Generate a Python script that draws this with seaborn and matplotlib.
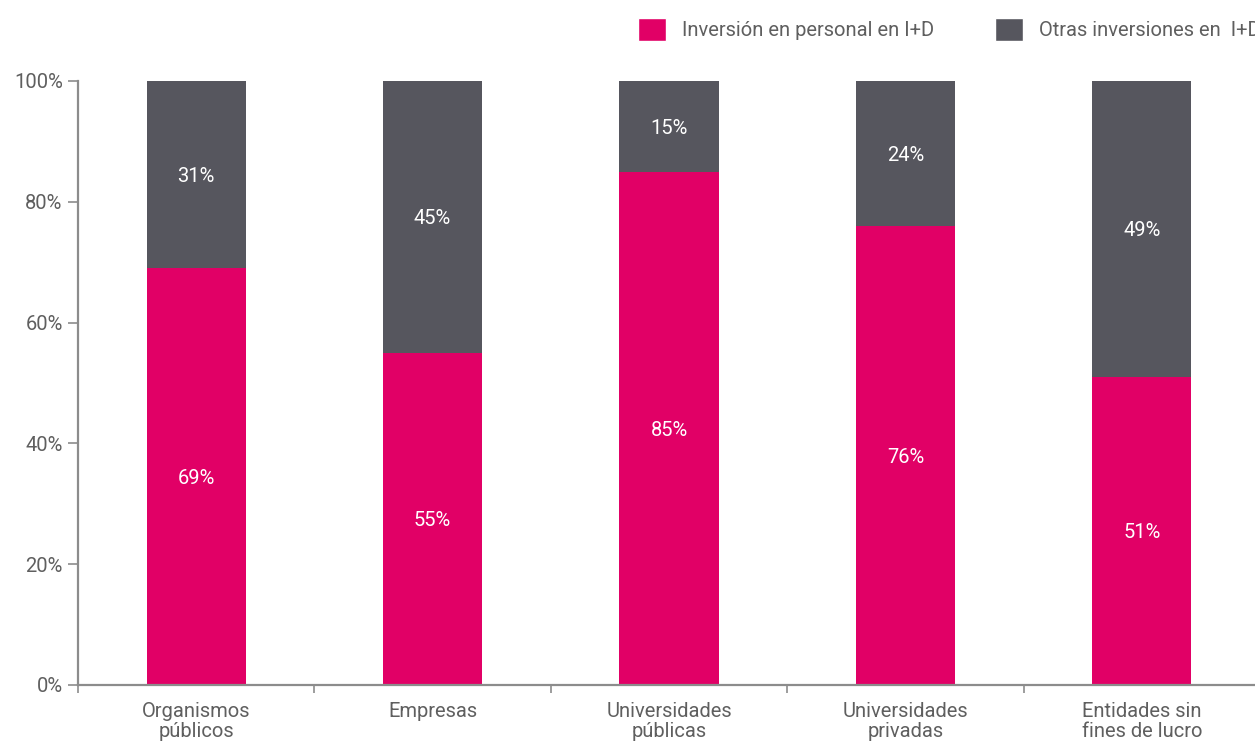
import pandas as pd
import seaborn as sns
import matplotlib.pyplot as plt
from matplotlib.patches import Patch

# Data
categorias = ["Organismos\npúblicos", "Empresas", "Universidades\npúblicas",
              "Universidades\nprivadas", "Entidades sin\nfines de lucro"]
personal = [69, 55, 85, 76, 51]
otras = [31, 45, 15, 24, 49]
yticks = [0, 20, 40, 60, 80, 100]

ROSA = "#E10066"
GRIS = "#56565E"
TEXTO = "#5f5f5f"
EJE = "#8c8c8c"

df = pd.DataFrame({"categoria": categorias, "personal": personal, "otras": otras})
df["total"] = df["personal"] + df["otras"]

sns.set_style("white")
plt.rcParams["font.family"] = ["Roboto", "DejaVu Sans"]

fig = plt.figure(figsize=(12.55, 7.42), dpi=100)
ax = fig.add_axes([78 / 1255, 57 / 742, (1260 - 78) / 1255, 604 / 742])

# Stacked bars: grey total behind, pink share in front
sns.barplot(data=df, x="categoria", y="total", order=categorias, color=GRIS,
            width=0.42, saturation=1, linewidth=0, ax=ax)
sns.barplot(data=df, x="categoria", y="personal", order=categorias, color=ROSA,
            width=0.42, saturation=1, linewidth=0, ax=ax)

for i, (p, o) in enumerate(zip(personal, otras)):
    ax.text(i, p / 2, f"{p}%", ha="center", va="center_baseline", color="white", fontsize=14.5)
    ax.text(i, p + o / 2, f"{o}%", ha="center", va="center_baseline", color="white", fontsize=14.5)

ax.set_xlim(-0.5, 4.5)
ax.set_ylim(0, 100)
ax.set_yticks(yticks)
ax.set_yticklabels([f"{v}%" for v in yticks])
ax.set_xticks(range(len(categorias)))
ax.set_xticklabels(categorias, linespacing=1.1)
ax.set_xticks([i - 0.5 for i in range(len(categorias) + 1)], minor=True)
ax.tick_params(axis="x", which="major", bottom=True, length=0, pad=12, labelsize=14.5, labelcolor=TEXTO)
ax.tick_params(axis="x", which="minor", bottom=True, length=6, width=1.2, color=EJE, direction="out")
ax.tick_params(axis="y", left=True, length=7, width=1.2, color=EJE, direction="out",
               labelsize=14.5, labelcolor=TEXTO, pad=4)
ax.set_xlabel("")
ax.set_ylabel("")

sns.despine(ax=ax)
for s in ("left", "bottom"):
    ax.spines[s].set_color(EJE)
    ax.spines[s].set_linewidth(1.6)

# Legend runs off the right edge, as in the original layout
handles = [Patch(facecolor=ROSA, label="Inversión en personal en I+D"),
           Patch(facecolor=GRIS, label="Otras inversiones en  I+D")]
fig.legend(handles=handles, loc="upper left", bbox_to_anchor=(620 / 1255, 1.0), ncol=2,
           frameon=False, fontsize=14.5, labelcolor=TEXTO, handlelength=1.4,
           handleheight=1.4, handletextpad=0.8, columnspacing=3.0)

fig.savefig("out.png", dpi=100)
